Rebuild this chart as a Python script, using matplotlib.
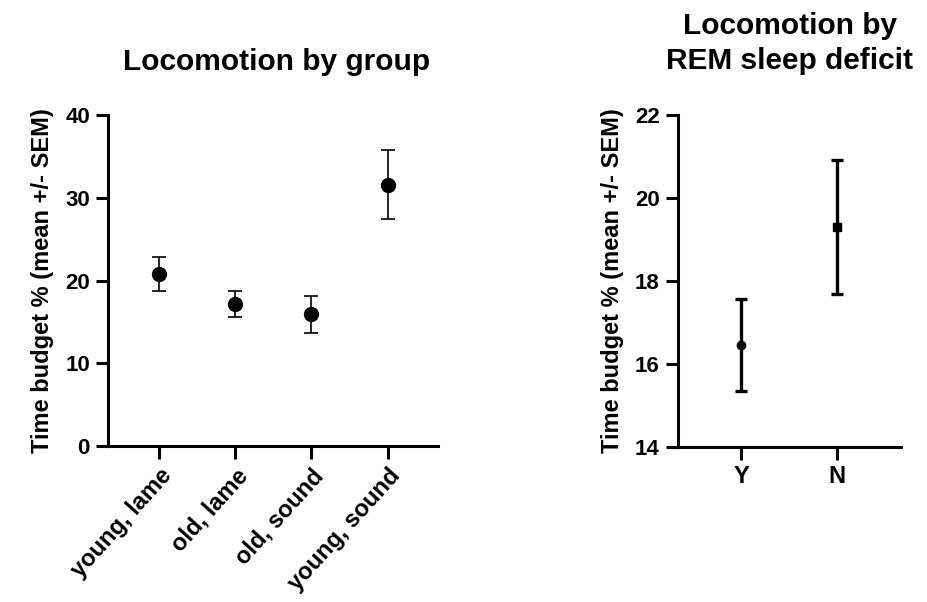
import matplotlib.pyplot as plt

plt.rcParams['font.family'] = ['Liberation Sans', 'DejaVu Sans']
plt.rcParams['font.weight'] = 'bold'

# Locomotion by group
groups = ['young, lame', 'old, lame', 'old, sound', 'young, sound']
group_mean = [20.8, 17.2, 15.9, 31.6]
group_sem = [2.05, 1.55, 2.25, 4.2]

# Locomotion by REM sleep deficit
rem = ['Y', 'N']
rem_mean = [16.45, 19.3]
rem_sem = [1.1, 1.62]

fig = plt.figure(figsize=(9.27, 6.02), dpi=100)
ax1 = fig.add_axes([0.1165, 0.259, 0.356, 0.55])
ax2 = fig.add_axes([0.731, 0.258, 0.241, 0.551])

for ax in (ax1, ax2):
    for s in ['top', 'right']:
        ax.spines[s].set_visible(False)
    for s in ['left', 'bottom']:
        ax.spines[s].set_linewidth(2.2)
    ax.tick_params(direction='out', length=9, width=2.2, labelsize=16, pad=4)

x1 = range(len(groups))
ax1.errorbar(x1, group_mean, yerr=group_sem, fmt='o', color='black',
             markersize=10, elinewidth=1.2, capsize=5, capthick=1.2)
ax1.set_xlim(-0.67, 3.66)
ax1.set_ylim(0, 40)
ax1.set_yticks([0, 10, 20, 30, 40])
ax1.set_xticks(list(x1))
ax1.set_xticklabels(groups, rotation=48, ha='right', rotation_mode='anchor',
                    fontsize=17, fontweight='bold')
ax1.set_ylabel('Time budget % (mean +/- SEM)', fontsize=17, fontweight='bold',
               labelpad=8)
fig.text(0.298, 0.897, 'Locomotion by group', ha='center', va='center',
         fontsize=21.5, fontweight='bold')

markers = ['o', 's']
for i, m in enumerate(markers):
    ax2.errorbar([i], [rem_mean[i]], yerr=[rem_sem[i]], fmt=m, color='black',
                 markersize=6, elinewidth=2.4, capsize=4, capthick=2.4)
ax2.set_xlim(-0.665, 1.67)
ax2.set_ylim(14, 22)
ax2.set_yticks([14, 16, 18, 20, 22])
ax2.set_xticks([0, 1])
ax2.set_xticklabels(rem, fontsize=17, fontweight='bold')
ax2.set_ylabel('Time budget % (mean +/- SEM)', fontsize=17, fontweight='bold',
               labelpad=8)
fig.text(0.852, 0.928, 'Locomotion by\nREM sleep deficit', ha='center', va='center',
         fontsize=21.5, fontweight='bold', linespacing=1.3)

for ax in (ax1, ax2):
    for lab in ax.get_yticklabels():
        lab.set_fontweight('bold')

fig.savefig('out.png', dpi=100)
